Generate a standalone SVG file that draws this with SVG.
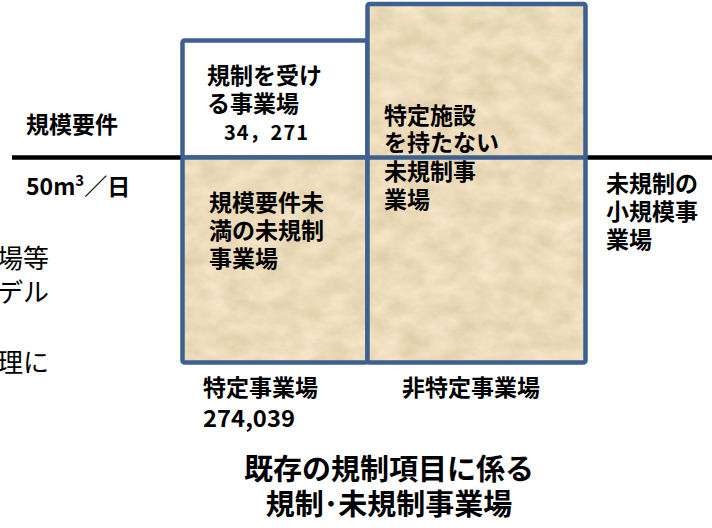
<svg xmlns="http://www.w3.org/2000/svg" width="712" height="528" viewBox="0 0 712 528">
<style>
.b{font-family:"Noto Sans CJK JP","Noto Sans CJK SC",sans-serif;font-weight:bold;font-size:23px;fill:#000}
.r{font-family:"Noto Sans CJK JP","Noto Sans CJK SC",sans-serif;font-weight:normal;font-size:26px;fill:#000}
.t{font-size:29px}
.frame{fill:none;stroke:#3d6090;stroke-width:4.5}
.paper{filter:url(#paper)}
.rule{stroke:#000;stroke-width:4.5}
</style>
<defs>
<filter id="paper" x="0" y="0" width="100%" height="100%" color-interpolation-filters="sRGB">
<feTurbulence type="fractalNoise" baseFrequency="0.04 0.06" numOctaves="4" seed="7" result="n"/>
<feColorMatrix in="n" type="matrix" values="0.12 0 0 0 0.865  0.14 0 0 0 0.79  0.18 0 0 0 0.64  0 0 0 0 1" result="c"/>
<feComposite in="c" in2="SourceAlpha" operator="in"/>
</filter>
</defs>
<g id="lines">
<line class="rule" x1="12" y1="157.5" x2="182" y2="157.5"/>
<line class="rule" x1="586" y1="157.5" x2="712" y2="157.5"/>
</g>
<g id="regulated">
<rect x="182.5" y="40.5" width="185" height="117" fill="#fff"/>
<rect class="frame" x="182.5" y="40.5" width="185" height="117" rx="2"/>
<text class="b" x="207" y="84">規制を受け</text>
<text class="b" x="207" y="112">る事業場</text>
<text class="b" x="224" y="140" style="font-size:20px" textLength="84" lengthAdjust="spacing">34，271</text>
</g>
<g id="small-unregulated">
<rect class="paper" x="182.5" y="157.5" width="185" height="205"/>
<rect class="frame" x="182.5" y="157.5" width="185" height="205" rx="2"/>
<text class="b" x="209" y="211">規模要件未</text>
<text class="b" x="209" y="239">満の未規制</text>
<text class="b" x="209" y="267">事業場</text>
</g>
<g id="non-specified">
<rect class="paper" x="367.5" y="4" width="218" height="358.5"/>
<rect class="frame" x="367.5" y="4" width="218" height="358.5" rx="2"/>
<line class="frame" x1="367.5" y1="157.5" x2="585.5" y2="157.5"/>
<text class="b" x="384" y="124">特定施設</text>
<text class="b" x="384" y="151">を持たない</text>
<text class="b" x="384" y="180">未規制事</text>
<text class="b" x="384" y="208">業場</text>
</g>
<g id="left-labels">
<text class="b" x="26" y="133">規模要件</text>
<text class="b" x="26" y="195"><tspan>50m</tspan><tspan dy="-9" style="font-size:15px">3</tspan><tspan dy="9">／日</tspan></text>
<text class="r" x="-3" y="268">場等</text>
<text class="r" x="-3" y="302">デル</text>
<text class="r" x="-3" y="372">理に</text>
</g>
<g id="small-scale">
<text class="b" x="606" y="192">未規制の</text>
<text class="b" x="606" y="220">小規模事</text>
<text class="b" x="606" y="248">業場</text>
</g>
<g id="bottom-labels">
<text class="b" x="203" y="396">特定事業場</text>
<text class="b" x="203" y="427" textLength="92" lengthAdjust="spacingAndGlyphs">274,039</text>
<text class="b" x="402" y="396">非特定事業場</text>
<text class="b t" x="389" y="480" text-anchor="middle">既存の規制項目に係る</text>
<text class="b t" x="389" y="515" text-anchor="middle">規制･未規制事業場</text>
</g>
</svg>
